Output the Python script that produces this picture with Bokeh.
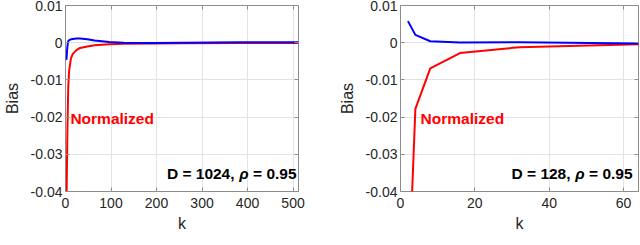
from bokeh.plotting import figure
from bokeh.models import Range1d, FixedTicker, LinearAxis, ColumnDataSource
from bokeh.layouts import row
from bokeh.embed import file_html
from bokeh.resources import INLINE
from bokeh.core.properties import value

# ---- data ----
k_1024 = [2, 4, 6, 8, 12, 16, 24, 32, 48, 64, 96, 128, 192, 256, 384, 512]
blue_1024 = [-0.0046, -0.0012, 0.0004, 0.0007, 0.0009, 0.0010, 0.0011, 0.0011,
             0.0009, 0.0006, 0.0002, 0.0, -0.00005, 0.0, 0.0001, 0.0001]
red_1024 = [-0.045, -0.025, -0.012, -0.0075, -0.0042, -0.003, -0.002, -0.0014,
            -0.001, -0.0007, -0.0004, -0.0003, -0.0002, -0.00015, -0.0001, -0.0001]

k_128 = [2, 4, 8, 16, 32, 64]
blue_128 = [0.0058, 0.0021, 0.0004, 0.00005, 0.0001, -0.0002]
red_128 = [-0.069, -0.0178, -0.0069, -0.0028, -0.0012, -0.0004]

y_ticks = [-0.04, -0.03, -0.02, -0.01, 0.0, 0.01]
y_tick_labels = ["-0.04", "-0.03", "-0.02", "-0.01", "0", "0.01"]
x_ticks_1024 = [0, 100, 200, 300, 400, 500]
x_ticks_128 = [0, 20, 40, 60]

panels = [
    dict(k=k_1024, blue=blue_1024, red=red_1024, xmax=512, xticks=x_ticks_1024,
         dtext="D = 1024,", tx=507.7, nx=10.8),
    dict(k=k_128, blue=blue_128, red=red_128, xmax=64, xticks=x_ticks_128,
         dtext="D = 128,", tx=62.4, nx=5.4),
]

FONT = "Liberation Sans"
AX = "#8c8c8c"
TXT = "#262626"

figs = []
for i, pn in enumerate(panels):
    p = figure(width=320, height=246, output_backend="svg", toolbar_location=None,
               x_range=Range1d(0, pn["xmax"]), y_range=Range1d(-0.04, 0.01),
               min_border_left=61 if i == 0 else 80,
               min_border_right=22 if i == 0 else 2,
               min_border_top=8, min_border_bottom=52)
    p.outline_line_color = AX
    p.outline_line_width = 1
    p.background_fill_color = "white"
    p.border_fill_color = "white"

    for ax in p.xaxis:
        ax.ticker = FixedTicker(ticks=pn["xticks"])
    for ax in p.yaxis:
        ax.ticker = FixedTicker(ticks=y_ticks)
        ax.major_label_overrides = {t: l for t, l in zip(y_ticks, y_tick_labels)}
    for ax in list(p.xaxis) + list(p.yaxis):
        ax.axis_line_color = None
        ax.major_tick_in = 4
        ax.major_tick_out = 0
        ax.major_tick_line_color = AX
        ax.minor_tick_line_color = None
        ax.major_label_text_font = FONT
        ax.major_label_text_font_size = "14px"
        ax.major_label_text_color = TXT
        ax.axis_label_text_font = FONT
        ax.axis_label_text_font_size = "16px"
        ax.axis_label_text_font_style = "normal"
        ax.axis_label_text_color = TXT
    p.xaxis.major_label_standoff = 6
    p.xaxis.axis_label = "k"
    p.xaxis.axis_label_standoff = 4
    p.yaxis.major_label_standoff = 3
    p.yaxis.axis_label = "Bias"
    p.yaxis.axis_label_standoff = 7

    # box ticks on top and right (no labels)
    top = LinearAxis(ticker=FixedTicker(ticks=pn["xticks"]),
                     major_label_overrides={t: "" for t in pn["xticks"]},
                     major_label_standoff=0, axis_line_color=None, major_tick_in=4,
                     major_tick_out=0, major_tick_line_color=AX, minor_tick_line_color=None)
    right = LinearAxis(ticker=FixedTicker(ticks=y_ticks),
                       major_label_overrides={t: "" for t in y_ticks},
                       major_label_standoff=0, axis_line_color=None, major_tick_in=4,
                       major_tick_out=0, major_tick_line_color=AX, minor_tick_line_color=None)
    p.add_layout(top, "above")
    p.add_layout(right, "right")

    p.xgrid.ticker = FixedTicker(ticks=pn["xticks"])
    p.ygrid.ticker = FixedTicker(ticks=y_ticks)
    p.grid.grid_line_color = "#e3e3e3"
    p.grid.grid_line_width = 1

    src = ColumnDataSource(dict(k=pn["k"], blue=pn["blue"], red=pn["red"]))
    p.line("k", "red", source=src, line_color="#ff0000", line_width=2)
    p.line("k", "blue", source=src, line_color="#0000ff", line_width=2)

    p.text(x=[pn["nx"]], y=[-0.0203], text=["Normalized"], text_color="#ff0000",
           text_font=value(FONT), text_font_size="15.5px", text_font_style="bold",
           text_align="left", text_baseline="middle")
    p.text(x=[pn["tx"]], y=[-0.0352], text=["= 0.95"], text_color="black",
           text_font=value(FONT), text_font_size="15.5px", text_font_style="bold",
           text_align="right", text_baseline="middle")
    p.text(x=[pn["tx"]], y=[-0.0352], text=["ρ"], text_color="black", x_offset=-48,
           text_font=value(FONT), text_font_size="15.5px", text_font_style="bold italic",
           text_align="right", text_baseline="middle")
    p.text(x=[pn["tx"]], y=[-0.0352], text=[pn["dtext"]], text_color="black",
           x_offset=-62,
           text_font=value(FONT), text_font_size="15.5px", text_font_style="bold",
           text_align="right", text_baseline="middle")
    figs.append(p)

layout = row(figs[0], figs[1], margin=(-3, 0, 0, 0))
open("out.html", "w").write(file_html(layout, INLINE))
